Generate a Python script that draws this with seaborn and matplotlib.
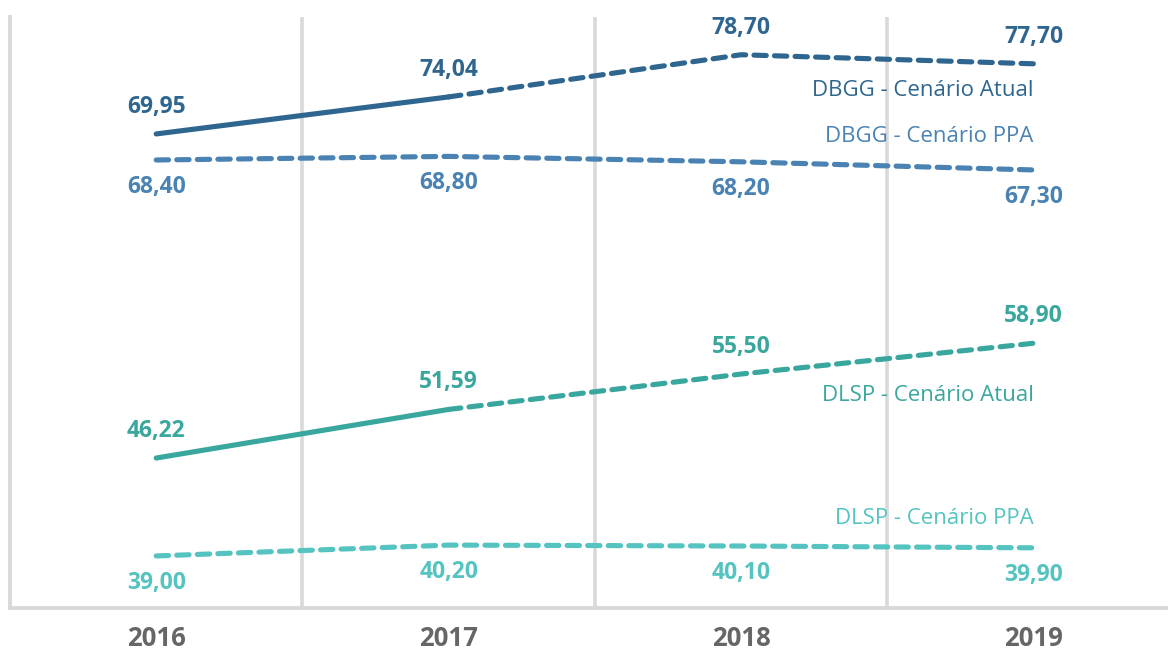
import matplotlib
matplotlib.use("Agg")
import matplotlib.pyplot as plt
import matplotlib.transforms as mtransforms
import seaborn as sns

# data
years = ["2016", "2017", "2018", "2019"]
dbgg_atual = [69.95, 74.04, 78.70, 77.70]
dbgg_ppa = [68.40, 68.80, 68.20, 67.30]
dlsp_atual = [46.22, 51.59, 55.50, 58.90]
dlsp_ppa = [39.00, 40.20, 40.10, 39.90]

series_names = ["DBGG - Cenário Atual", "DBGG - Cenário PPA",
                "DLSP - Cenário Atual", "DLSP - Cenário PPA"]

# styling / layout
colors = ["#2f6690", "#4a83b3", "#3aa79e", "#55c4c1"]
ymins = [17.57, 18.9, 29.65, 33.25]   # each series sits on its own hidden y axis
yspan = 65.3
label_y = [0.876, 0.797, 0.360, 0.152]  # series name positions (axes fraction)
grid_col = "#d9d9d9"
dash = (0, (2.4, 1.6))
lw = 3.7

sns.set_style("white")
plt.rcParams['font.family'] = ['Open Sans', 'DejaVu Sans']

fig = plt.figure(figsize=(11.68, 6.53), dpi=100)
ax = fig.add_axes([10 / 1168, 45 / 653, 1 - 10 / 1168, 591 / 653])
x = list(range(len(years)))

ax.set_xlim(-0.5, 3.46)
ax.set_xticks(x)
ax.set_xticklabels(years, fontsize=18.5, fontweight="bold", color="#666666")
ax.set_xticks([0.5, 1.5, 2.5], minor=True)
ax.tick_params(axis="x", which="both", length=0, pad=12)
ax.set_yticks([])
ax.grid(axis="x", which="minor", color=grid_col, linewidth=2.6)
ax.grid(axis="x", which="major", visible=False)
ax.grid(axis="y", visible=False)
for side in ["top", "right"]:
    ax.spines[side].set_visible(False)
for side in ["left", "bottom"]:
    ax.spines[side].set_color(grid_col)
    ax.spines[side].set_linewidth(2.8)

all_series = [dbgg_atual, dbgg_ppa, dlsp_atual, dlsp_ppa]
for i, vals in enumerate(all_series):
    a = ax.twinx()
    a.set_ylim(ymins[i], ymins[i] + yspan)
    a.set_yticks([])
    for s in a.spines.values():
        s.set_visible(False)
    col = colors[i]
    atual = i % 2 == 0
    if atual:
        sns.lineplot(x=x[:2], y=vals[:2], ax=a, color=col, linewidth=lw,
                     solid_capstyle="round")
        sns.lineplot(x=x[1:], y=vals[1:], ax=a, color=col, linewidth=lw,
                     linestyle=dash, dash_capstyle="round")
    else:
        sns.lineplot(x=x, y=vals, ax=a, color=col, linewidth=lw,
                     linestyle=dash, dash_capstyle="round")
    off = 19.5 if atual else -19.5
    for xi, v in zip(x, vals):
        a.annotate(f"{v:.2f}".replace(".", ","), (xi, v), xytext=(0, off),
                   textcoords="offset points", ha="center", va="center",
                   fontsize=16.5, fontweight="bold", color=col)
    trans = mtransforms.blended_transform_factory(a.transData, a.transAxes)
    a.text(3.0, label_y[i], series_names[i], transform=trans, ha="right",
           va="center", fontsize=16, color=col)
    a.set_xlim(-0.5, 3.46)

fig.savefig("out.png", dpi=100)
